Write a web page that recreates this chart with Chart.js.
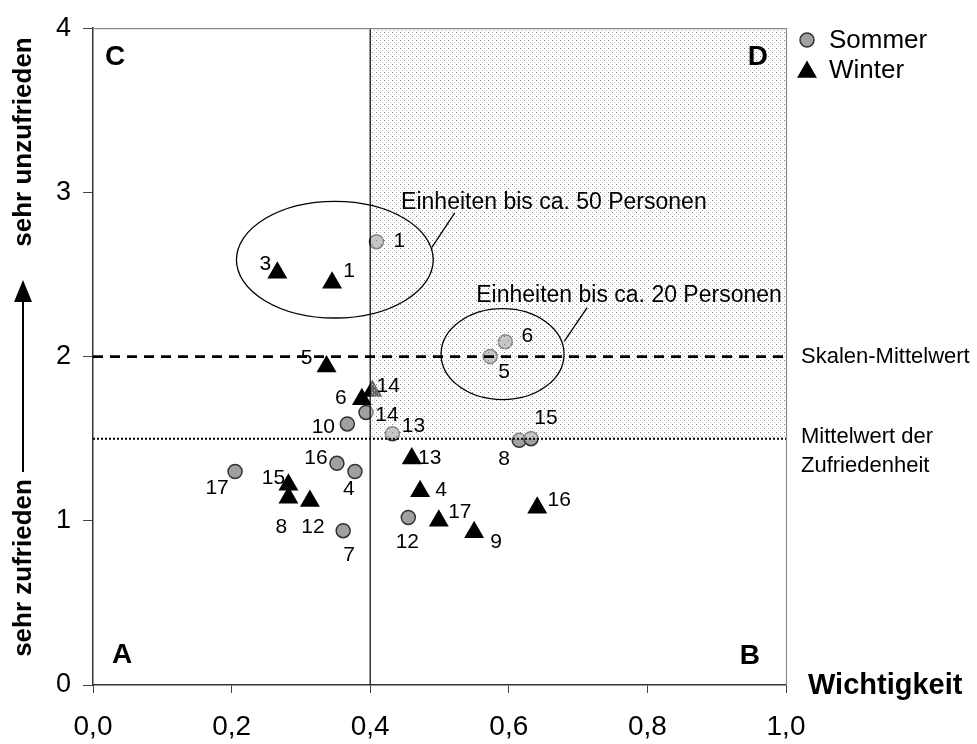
<!DOCTYPE html>
<html><head><meta charset="utf-8">
<script src="https://cdn.jsdelivr.net/npm/chart.js@4.4.0/dist/chart.umd.min.js"></script>
<style>html,body{margin:0;padding:0;background:#fff}#wrap{width:977px;height:744px;position:relative}</style>
</head><body><div id="wrap"><canvas id="c"></canvas></div>
<script>
// ---- data ----
const sommerIds = ['1','4','5','6','7','8','10','12','13','14','15','16','17'];
const sommerX   = [0.409,0.378,0.573,0.595,0.361,0.615,0.367,0.455,0.432,0.394,0.632,0.352,0.205];
const sommerY   = [2.70,1.30,2.00,2.09,0.94,1.49,1.59,1.02,1.53,1.66,1.50,1.35,1.30];
const winterIds = ['1','3','4','5','6','8','9','12','13','14','15','16','17'];
const winterX   = [0.345,0.266,0.472,0.337,0.388,0.282,0.550,0.313,0.460,0.403,0.282,0.641,0.499];
const winterY   = [2.45,2.51,1.18,1.94,1.74,1.14,0.93,1.12,1.38,1.79,1.22,1.08,1.00];
const xTickLabels = ['0,0','0,2','0,4','0,6','0,8','1,0'];
const yTickLabels = ['0','1','2','3','4'];
const scaleMean = 2.0;          // Skalen-Mittelwert
const satisfactionMean = 1.5;   // Mittelwert der Zufriedenheit
const importanceSplit = 0.4;
const seriesNames = ['Sommer','Winter'];
const quadrantNames = ['A','B','C','D'];
const groupTexts = ['Einheiten bis ca. 50 Personen','Einheiten bis ca. 20 Personen'];
// annotation geometry (data units)
const ellipseCx = [0.349,0.591], ellipseCy = [2.59,2.015], ellipseRx = [0.142,0.0887], ellipseRy = [0.355,0.277];
const calloutFrom = [[0.489,2.665],[0.680,2.093]], calloutTo = [[0.522,2.875],[0.713,2.298]];
const groupTextAt = [[0.4446,2.899],[0.553,2.334]];

// label placement (px offsets from marker)
const sommerLabelOffset = {'1':[23,0],'4':[-6,18],'5':[14,16],'6':[22,-6],'7':[6,25],'8':[-15,19],'10':[-24,3],'12':[-1,25],'13':[21,-8],'14':[21,3],'15':[15,-20],'16':[-21,-5],'17':[-18,17]};
const winterLabelOffset = {'1':[17,-12],'3':[-12,-9],'4':[21,-1],'5':[-20,-8],'6':[-21,-1],'8':[-7,29],'9':[22,10],'12':[3,26],'13':[18,0],'14':[16,-5],'15':[-15,-6],'16':[22,-7],'17':[21,-9]};

const FONT = '"Liberation Sans", Arial, sans-serif';

// dotted pattern
const pc = document.createElement('canvas'); pc.width = 8; pc.height = 8;
const pctx = pc.getContext('2d');
[[2,2],[6,6],[4,0],[0,4],[6,2],[2,6]].forEach(p=>{pctx.fillStyle='#c4c4c4';pctx.fillRect(p[0],p[1],1,1);});
[[0,0],[4,4]].forEach(p=>{pctx.fillStyle='#7a7a7a';pctx.fillRect(p[0],p[1],1,1);});
let pattern = null;

const annot = {
  id:'annot',
  afterDatasetDraw(chart,args){
    if (chart.data.datasets[args.index].label !== 'Sommer') return;
    const {ctx, scales:{x,y}} = chart;
    const x0=x.getPixelForValue(importanceSplit), x1=x.getPixelForValue(1);
    const y0=y.getPixelForValue(4), y1=y.getPixelForValue(satisfactionMean);
    if(!pattern) pattern = ctx.createPattern(pc,'repeat');
    ctx.save();
    ctx.fillStyle='rgba(255,255,255,0.4)'; ctx.fillRect(x0,y0,x1-x0,y1-y0);
    ctx.fillStyle=pattern; ctx.fillRect(x0,y0,x1-x0,y1-y0);
    ctx.restore();
  },
  afterDatasetsDraw(chart){
    const {ctx, chartArea:ca, scales:{x,y}} = chart;
    ctx.save();
    // top/right border
    ctx.strokeStyle='#8a8a8a'; ctx.lineWidth=1.2;
    ctx.beginPath(); ctx.moveTo(ca.left,ca.top+0.5); ctx.lineTo(ca.right+0.5,ca.top+0.5); ctx.lineTo(ca.right+0.5,ca.bottom); ctx.stroke();
    // ellipses
    ctx.strokeStyle='#000'; ctx.lineWidth=1.3;
    for(let i=0;i<ellipseCx.length;i++){
      const cx=x.getPixelForValue(ellipseCx[i]), cy=y.getPixelForValue(ellipseCy[i]);
      const rx=x.getPixelForValue(ellipseCx[i]+ellipseRx[i])-cx, ry=cy-y.getPixelForValue(ellipseCy[i]+ellipseRy[i]);
      ctx.beginPath(); ctx.ellipse(cx,cy,rx,ry,0,0,Math.PI*2); ctx.stroke();
      ctx.beginPath();
      ctx.moveTo(x.getPixelForValue(calloutFrom[i][0]),y.getPixelForValue(calloutFrom[i][1]));
      ctx.lineTo(x.getPixelForValue(calloutTo[i][0]),y.getPixelForValue(calloutTo[i][1]));
      ctx.stroke();
      ctx.fillStyle='#000'; ctx.font='23px '+FONT; ctx.textAlign='left'; ctx.textBaseline='alphabetic';
      ctx.fillText(groupTexts[i], x.getPixelForValue(groupTextAt[i][0]), y.getPixelForValue(groupTextAt[i][1]));
    }
    // point labels
    ctx.fillStyle='#000'; ctx.font='21px '+FONT; ctx.textAlign='center'; ctx.textBaseline='middle';
    const drawLabels=(dsIndex, ids, offs)=>{
      chart.getDatasetMeta(dsIndex).data.forEach((el,i)=>{
        const o=offs[ids[i]]; ctx.fillText(ids[i], el.x+o[0], el.y+o[1]);
      });
    };
    drawLabels(0, sommerIds, sommerLabelOffset);
    drawLabels(1, winterIds, winterLabelOffset);
    // quadrant letters
    ctx.font='bold 28px '+FONT; ctx.textBaseline='alphabetic';
    ctx.textAlign='left'; ctx.fillText(quadrantNames[2], ca.left+12, ca.top+37);
    ctx.fillText(quadrantNames[0], ca.left+19, ca.bottom-22);
    ctx.textAlign='right'; ctx.fillText(quadrantNames[3], ca.right-18, ca.top+37);
    ctx.fillText(quadrantNames[1], ca.right-26, ca.bottom-21);
    // right-side texts
    ctx.font='22px '+FONT; ctx.textAlign='left'; ctx.textBaseline='middle';
    ctx.fillText('Skalen-Mittelwert', ca.right+15, y.getPixelForValue(scaleMean));
    const ym=y.getPixelForValue(satisfactionMean);
    ctx.fillText('Mittelwert der', ca.right+15, ym-2);
    ctx.fillText('Zufriedenheit', ca.right+15, ym+27);
    // x title
    ctx.font='bold 29px '+FONT; ctx.textBaseline='alphabetic';
    ctx.fillText('Wichtigkeit', ca.right+22, ca.bottom+9);
    // legend
    const lx=ca.right+21;
    ctx.beginPath(); ctx.arc(lx,40,7,0,Math.PI*2); ctx.fillStyle='#a0a0a0'; ctx.fill(); ctx.strokeStyle='#333'; ctx.lineWidth=1.5; ctx.stroke();
    ctx.beginPath(); const r=11.5; ctx.moveTo(lx,72-r); ctx.lineTo(lx+r*0.866,72+r/2); ctx.lineTo(lx-r*0.866,72+r/2); ctx.closePath(); ctx.fillStyle='#000'; ctx.fill();
    ctx.font='26px '+FONT; ctx.textBaseline='middle'; ctx.fillStyle='#000';
    ctx.fillText(seriesNames[0], lx+22, 41);
    ctx.fillText(seriesNames[1], lx+22, 71);
    // y title
    const tx=24;
    ctx.font='bold 26px '+FONT; ctx.textAlign='center'; ctx.textBaseline='middle';
    ctx.save(); ctx.translate(tx,142); ctx.rotate(-Math.PI/2); ctx.fillText('sehr unzufrieden',0,0); ctx.restore();
    ctx.save(); ctx.translate(tx,568); ctx.rotate(-Math.PI/2); ctx.fillText('sehr zufrieden',0,0); ctx.restore();
    ctx.strokeStyle='#000'; ctx.lineWidth=2;
    ctx.beginPath(); ctx.moveTo(tx-1,472); ctx.lineTo(tx-1,298); ctx.stroke();
    ctx.beginPath(); ctx.moveTo(tx-1,280); ctx.lineTo(tx+8,302); ctx.lineTo(tx-10,302); ctx.closePath(); ctx.fillStyle='#000'; ctx.fill();
    ctx.restore();
  }
};

const toPts=(xs,ys)=>xs.map((v,i)=>({x:v,y:ys[i]}));

new Chart(document.getElementById('c'), {
  type:'scatter',
  data:{datasets:[
    {label:'Sommer', data:toPts(sommerX,sommerY), pointStyle:'circle', pointRadius:7, pointBackgroundColor:'#a0a0a0', pointBorderColor:'#333', pointBorderWidth:1.5, order:1},
    {label:'Winter', data:toPts(winterX,winterY), pointStyle:'triangle', pointRadius:11.5, pointBackgroundColor:'#000', pointBorderColor:'#000', pointBorderWidth:0, order:2},
    {label:'Skalen-Mittelwert', data:[{x:0,y:scaleMean},{x:1,y:scaleMean}], showLine:true, borderColor:'#000', borderWidth:2.6, borderDash:[10,7], pointRadius:0, order:0},
    {label:'Mittelwert der Zufriedenheit', data:[{x:0,y:satisfactionMean},{x:1,y:satisfactionMean}], showLine:true, borderColor:'#000', borderWidth:2, borderDash:[2,2], pointRadius:0, order:0},
    {label:'Trennlinie', data:[{x:importanceSplit,y:0},{x:importanceSplit,y:4}], showLine:true, borderColor:'#000', borderWidth:1.2, pointRadius:0, order:0}
  ]},
  options:{
    responsive:true, maintainAspectRatio:false, animation:false,
    layout:{padding:{left:0,top:20,right:191,bottom:0}},
    plugins:{legend:{display:false}, tooltip:{enabled:false}},
    scales:{
      x:{type:'linear', min:0, max:1,
         ticks:{stepSize:0.2, autoSkip:false, maxRotation:0, padding:17, color:'#000', font:{family:FONT,size:28},
                callback:(v,i)=>xTickLabels[i]},
         grid:{drawOnChartArea:false, drawTicks:true, tickLength:8, color:'#444'},
         border:{display:true, color:'#333', width:1.5},
         afterFit:(s)=>{s.height=59;}},
      y:{type:'linear', min:0, max:4,
         ticks:{stepSize:1, autoSkip:false, padding:12, color:'#000', font:{family:FONT,size:27},
                callback:(v,i)=>yTickLabels[i]},
         grid:{drawOnChartArea:false, drawTicks:true, tickLength:10, color:'#444'},
         border:{display:true, color:'#333', width:1.5},
         afterFit:(s)=>{s.width=93;}}
    }
  },
  plugins:[annot]
});
</script></body></html>
